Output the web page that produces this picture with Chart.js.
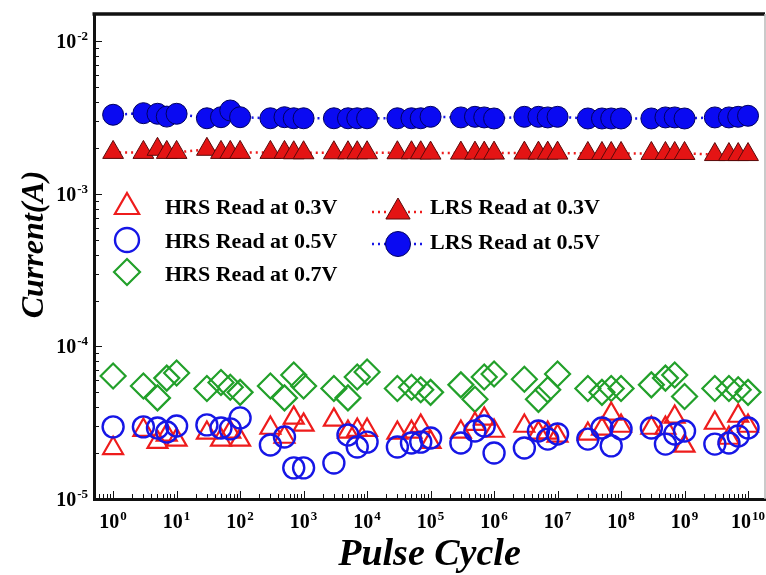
<!DOCTYPE html>
<html>
<head>
<meta charset="utf-8">
<script src="https://cdn.jsdelivr.net/npm/chart.js@4.4.1/dist/chart.umd.min.js"></script>
<style>
  html, body { margin: 0; padding: 0; background: #fff; }
  #wrap { width: 766px; height: 575px; position: relative; }
</style>
</head>
<body>
<div id="wrap"><canvas id="c" width="766" height="575"></canvas></div>
<script>
// Pulse cycles at which each read was taken
const pulseCycles = [1,
  3, 5, 7, 10,
  30, 50, 70, 100,
  300, 500, 700, 1e3,
  3e3, 5e3, 7e3, 1e4,
  3e4, 5e4, 7e4, 1e5,
  3e5, 5e5, 7e5, 1e6,
  3e6, 5e6, 7e6, 1e7,
  3e7, 5e7, 7e7, 1e8,
  3e8, 5e8, 7e8, 1e9,
  3e9, 5e9, 7e9, 1e10];

// Read currents (A)
const hrs03 = [2.15e-5,
  2.83e-5, 2.36e-5, 2.63e-5, 2.44e-5,
  2.71e-5, 2.44e-5, 2.75e-5, 2.44e-5,
  2.92e-5, 2.55e-5, 3.40e-5, 3.06e-5,
  3.30e-5, 2.75e-5, 2.83e-5, 2.83e-5,
  2.71e-5, 2.75e-5, 3.01e-5, 2.36e-5,
  2.75e-5, 3.10e-5, 3.35e-5, 2.79e-5,
  3.01e-5, 2.71e-5, 2.71e-5, 2.59e-5,
  2.67e-5, 2.88e-5, 3.61e-5, 3.01e-5,
  2.92e-5, 2.92e-5, 3.45e-5, 2.23e-5,
  3.15e-5, 2.51e-5, 3.50e-5, 3.01e-5];

const hrs05 = [2.97e-5,
  2.97e-5, 2.92e-5, 2.75e-5, 3.01e-5,
  3.06e-5, 2.92e-5, 2.88e-5, 3.40e-5,
  2.26e-5, 2.55e-5, 1.60e-5, 1.60e-5,
  1.72e-5, 2.63e-5, 2.19e-5, 2.36e-5,
  2.19e-5, 2.33e-5, 2.36e-5, 2.51e-5,
  2.33e-5, 2.79e-5, 3.01e-5, 2.00e-5,
  2.16e-5, 2.79e-5, 2.47e-5, 2.67e-5,
  2.47e-5, 2.92e-5, 2.23e-5, 2.88e-5,
  2.92e-5, 2.29e-5, 2.67e-5, 2.79e-5,
  2.29e-5, 2.33e-5, 2.59e-5, 2.92e-5];

const hrs07 = [6.4e-5,
  5.5e-5, 4.6e-5, 6.2e-5, 6.7e-5,
  5.3e-5, 5.8e-5, 5.4e-5, 5.0e-5,
  5.5e-5, 4.6e-5, 6.5e-5, 5.5e-5,
  5.3e-5, 4.6e-5, 6.3e-5, 6.8e-5,
  5.3e-5, 5.4e-5, 5.2e-5, 5.0e-5,
  5.6e-5, 4.5e-5, 6.3e-5, 6.6e-5,
  6.1e-5, 4.5e-5, 5.2e-5, 6.6e-5,
  5.3e-5, 5.0e-5, 5.3e-5, 5.3e-5,
  5.6e-5, 6.2e-5, 6.5e-5, 4.7e-5,
  5.3e-5, 5.3e-5, 5.2e-5, 5.0e-5];

const lrs03 = [1.87e-3,
  1.87e-3, 1.96e-3, 1.87e-3, 1.87e-3,
  1.96e-3, 1.87e-3, 1.87e-3, 1.87e-3,
  1.87e-3, 1.87e-3, 1.86e-3, 1.86e-3,
  1.86e-3, 1.86e-3, 1.86e-3, 1.86e-3,
  1.86e-3, 1.86e-3, 1.86e-3, 1.85e-3,
  1.85e-3, 1.85e-3, 1.85e-3, 1.85e-3,
  1.85e-3, 1.85e-3, 1.85e-3, 1.85e-3,
  1.84e-3, 1.84e-3, 1.84e-3, 1.84e-3,
  1.84e-3, 1.84e-3, 1.84e-3, 1.84e-3,
  1.81e-3, 1.81e-3, 1.81e-3, 1.81e-3];

const lrs05 = [3.30e-3,
  3.38e-3, 3.35e-3, 3.21e-3, 3.35e-3,
  3.13e-3, 3.18e-3, 3.52e-3, 3.18e-3,
  3.13e-3, 3.18e-3, 3.13e-3, 3.13e-3,
  3.13e-3, 3.13e-3, 3.13e-3, 3.13e-3,
  3.13e-3, 3.13e-3, 3.13e-3, 3.20e-3,
  3.17e-3, 3.20e-3, 3.17e-3, 3.12e-3,
  3.20e-3, 3.20e-3, 3.17e-3, 3.20e-3,
  3.12e-3, 3.12e-3, 3.12e-3, 3.12e-3,
  3.12e-3, 3.17e-3, 3.17e-3, 3.12e-3,
  3.17e-3, 3.17e-3, 3.20e-3, 3.25e-3];

// Decade tick labels, written as base^exponent
const xTickLabels = ['10^0', '10^1', '10^2', '10^3', '10^4', '10^5',
                     '10^6', '10^7', '10^8', '10^9', '10^10'];
const yTickLabels = ['10^-5', '10^-4', '10^-3', '10^-2'];
const yAxisTitle = 'Current(A)';

const SERIF = "'Liberation Serif', 'Times New Roman', serif";
const RED = '#ee1c1c';
const BLUE = '#1616e6';
const GREEN = '#22a02a';

function pts(ys) { return pulseCycles.map((x, i) => ({ x: x, y: ys[i] })); }

function logTicks(lo, hi) {
  const out = [];
  for (let e = Math.floor(Math.log10(lo)); e <= Math.ceil(Math.log10(hi)); e++) {
    for (let m = 1; m <= 9; m++) {
      const v = m * Math.pow(10, e);
      if (v >= lo * 0.9999 && v <= hi * 1.0001) out.push({ value: v });
    }
  }
  return out;
}

function decade(v) {
  const e = Math.log10(v);
  const r = Math.round(e);
  return Math.abs(e - r) < 1e-6 ? r : null;
}

// Inward tick marks along the axes
const innerTicks = {
  id: 'innerTicks',
  afterDraw(chart) {
    const ctx = chart.ctx, a = chart.chartArea;
    ctx.save();
    ctx.strokeStyle = '#111';
    ctx.lineWidth = 1;
    chart.scales.x.ticks.forEach(t => {
      const px = Math.round(chart.scales.x.getPixelForValue(t.value)) + 0.5;
      if (px < a.left + 1 || px > a.right - 1) return;
      const len = decade(t.value) !== null ? 7 : 4;
      ctx.beginPath(); ctx.moveTo(px, a.bottom - 1); ctx.lineTo(px, a.bottom - 1 - len); ctx.stroke();
    });
    chart.scales.y.ticks.forEach(t => {
      const py = Math.round(chart.scales.y.getPixelForValue(t.value)) + 0.5;
      if (py < a.top + 1 || py > a.bottom - 1) return;
      const len = decade(t.value) !== null ? 7 : 4;
      ctx.beginPath(); ctx.moveTo(a.left + 1, py); ctx.lineTo(a.left + 1 + len, py); ctx.stroke();
    });
    ctx.restore();
  }
};

// Decade labels with a raised exponent
function drawPower(ctx, label, x, baseY, align) {
  const parts = label.split('^');
  const baseFont = 'bold 20px ' + SERIF;
  const expFont = 'bold 13px ' + SERIF;
  ctx.font = baseFont;
  const wb = ctx.measureText(parts[0]).width;
  ctx.font = expFont;
  const we = ctx.measureText(parts[1]).width + 1;
  const w = wb + we;
  const x0 = align === 'right' ? x - w : x - w / 2;
  ctx.textAlign = 'left';
  ctx.textBaseline = 'alphabetic';
  ctx.font = baseFont;
  ctx.fillText(parts[0], x0, baseY);
  ctx.font = expFont;
  ctx.fillText(parts[1], x0 + wb + 1, baseY - 8);
}

const powerLabels = {
  id: 'powerLabels',
  afterDraw(chart) {
    const ctx = chart.ctx, a = chart.chartArea;
    ctx.save();
    ctx.fillStyle = '#000';
    chart.scales.x.ticks.forEach(t => {
      const e = decade(t.value);
      if (e === null) return;
      drawPower(ctx, xTickLabels[e], chart.scales.x.getPixelForValue(t.value), a.bottom + 29, 'center');
    });
    chart.scales.y.ticks.forEach(t => {
      const e = decade(t.value);
      if (e === null) return;
      drawPower(ctx, yTickLabels[e + 5], a.left - 6, chart.scales.y.getPixelForValue(t.value) + 7, 'right');
    });
    // vertical axis title, set a little above the axis middle
    ctx.translate(35, (a.top + a.bottom) / 2 - 12);
    ctx.rotate(-Math.PI / 2);
    ctx.font = 'italic bold 32px ' + SERIF;
    ctx.textAlign = 'center';
    ctx.textBaseline = 'middle';
    ctx.fillText(yAxisTitle, 0, 0);
    ctx.restore();
  }
};

// Top and right frame edges
const frame = {
  id: 'frame',
  afterDraw(chart) {
    const ctx = chart.ctx, a = chart.chartArea;
    ctx.save();
    ctx.strokeStyle = '#111';
    ctx.lineWidth = 3.5;
    ctx.beginPath(); ctx.moveTo(a.left - 1.5, a.top); ctx.lineTo(a.right, a.top); ctx.stroke();
    ctx.strokeStyle = '#b8b8b8';
    ctx.lineWidth = 1.5;
    ctx.beginPath(); ctx.moveTo(a.right, a.top); ctx.lineTo(a.right, a.bottom); ctx.stroke();
    ctx.restore();
  }
};

// Two-column key inside the plot
const keyBox = {
  id: 'keyBox',
  afterDraw(chart) {
    const ctx = chart.ctx, a = chart.chartArea;
    const sets = chart.data.datasets;
    const rows = [
      { i: 0, sx: 33, tx: 71, sy: 193, ty: 194 },
      { i: 1, sx: 33, tx: 71, sy: 226, ty: 228 },
      { i: 2, sx: 33, tx: 71, sy: 258, ty: 261 },
      { i: 3, sx: 304, tx: 336, sy: 198, ty: 194, line: true },
      { i: 4, sx: 304, tx: 336, sy: 230, ty: 229, line: true }
    ];
    ctx.save();
    rows.forEach(r => {
      const d = sets[r.i];
      const x = a.left + r.sx, y = a.top + r.sy;
      if (r.line) {
        ctx.save();
        ctx.strokeStyle = d.borderColor;
        ctx.lineWidth = 2.5;
        ctx.setLineDash([2, 4]);
        ctx.beginPath(); ctx.moveTo(x - 26, y); ctx.lineTo(x + 26, y); ctx.stroke();
        ctx.restore();
      }
      ctx.fillStyle = d.pointBackgroundColor;
      ctx.strokeStyle = d.pointBorderColor;
      ctx.lineWidth = d.pointBorderWidth;
      Chart.helpers.drawPoint(ctx, {
        pointStyle: d.pointStyle, radius: d.keyRadius, rotation: 0, borderWidth: d.pointBorderWidth
      }, x, y);
      ctx.fillStyle = '#000';
      ctx.font = 'bold 22px ' + SERIF;
      ctx.textAlign = 'left';
      ctx.textBaseline = 'middle';
      ctx.fillText(d.label, a.left + r.tx, a.top + r.ty);
    });
    ctx.restore();
  }
};

new Chart(document.getElementById('c'), {
  type: 'scatter',
  data: {
    datasets: [
      { label: 'HRS Read at 0.3V', data: pts(hrs03), showLine: false, order: 2,
        pointStyle: 'triangle', pointRadius: 11.5, keyRadius: 14,
        pointBackgroundColor: 'rgba(0,0,0,0)', pointBorderColor: RED, pointBorderWidth: 2.2 },
      { label: 'HRS Read at 0.5V', data: pts(hrs05), showLine: false, order: 1,
        pointStyle: 'circle', pointRadius: 10.5, keyRadius: 12,
        pointBackgroundColor: 'rgba(0,0,0,0)', pointBorderColor: BLUE, pointBorderWidth: 2.4 },
      { label: 'HRS Read at 0.7V', data: pts(hrs07), showLine: false, order: 3,
        pointStyle: 'rectRot', pointRadius: 12.5, keyRadius: 13,
        pointBackgroundColor: 'rgba(0,0,0,0)', pointBorderColor: GREEN, pointBorderWidth: 2.2 },
      { label: 'LRS Read at 0.3V', data: pts(lrs03), showLine: true, order: 5,
        borderColor: RED, borderWidth: 2.5, borderDash: [2, 4],
        pointStyle: 'triangle', pointRadius: 12, keyRadius: 14,
        pointBackgroundColor: '#e41414', pointBorderColor: '#5a0a0a', pointBorderWidth: 1 },
      { label: 'LRS Read at 0.5V', data: pts(lrs05), showLine: true, order: 4,
        borderColor: BLUE, borderWidth: 2.5, borderDash: [2, 4],
        pointStyle: 'circle', pointRadius: 10.5, keyRadius: 12.5,
        pointBackgroundColor: '#0a0af2', pointBorderColor: '#000060', pointBorderWidth: 1 }
    ]
  },
  options: {
    responsive: false,
    animation: false,
    devicePixelRatio: 1,
    events: [],
    layout: { autoPadding: false, padding: { top: 14, right: 1, left: 0, bottom: 0 } },
    plugins: { legend: { display: false }, tooltip: { enabled: false } },
    scales: {
      x: {
        type: 'logarithmic',
        min: 0.5, max: 1.85e10,
        afterBuildTicks: s => { s.ticks = logTicks(0.5, 1.85e10); },
        afterFit: s => { s.height = 76; },
        grid: { display: false, drawTicks: false, tickLength: 0 },
        border: { display: true, width: 3, color: '#111' },
        ticks: { display: false, autoSkip: false },
        title: {
          display: true, text: 'Pulse Cycle', color: '#000',
          font: { family: SERIF, size: 38, weight: 'bold', style: 'italic', lineHeight: 1 },
          padding: { top: 0, bottom: 1 }
        }
      },
      y: {
        type: 'logarithmic',
        min: 1e-5, max: 0.0151,
        afterBuildTicks: s => { s.ticks = logTicks(1e-5, 0.0151); },
        afterFit: s => { s.width = 94; },
        grid: { display: false, drawTicks: false, tickLength: 0 },
        border: { display: true, width: 3, color: '#111' },
        ticks: { display: false, autoSkip: false },
        title: { display: false }
      }
    }
  },
  plugins: [innerTicks, powerLabels, frame, keyBox]
});
</script>
</body>
</html>
